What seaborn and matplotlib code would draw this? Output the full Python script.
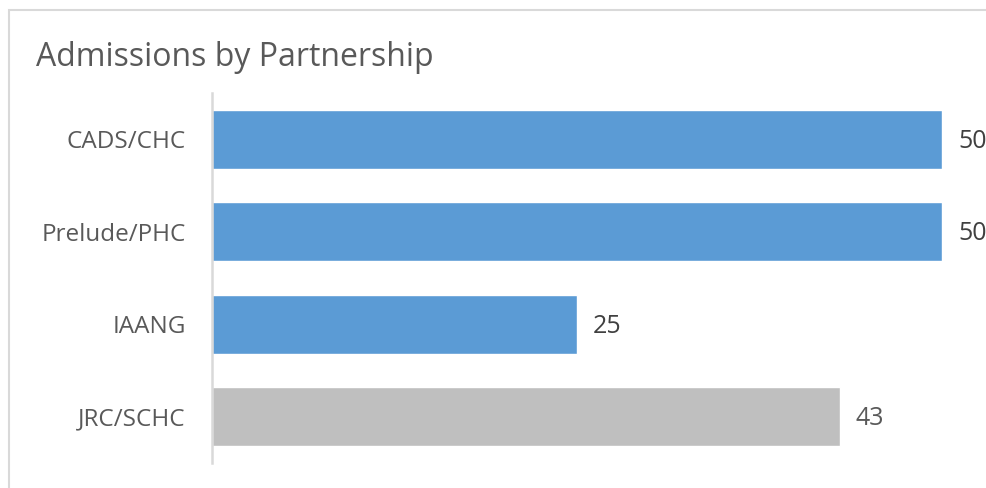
import matplotlib
matplotlib.use("Agg")
import matplotlib.pyplot as plt
import seaborn as sns
import pandas as pd
from matplotlib.patches import Rectangle

categories = ["CADS/CHC", "Prelude/PHC", "IAANG", "JRC/SCHC"]
values = [50, 50, 25, 43]
bar_colors = ["#5B9BD5", "#5B9BD5", "#5B9BD5", "#BFBFBF"]
label_colors = ["#404040", "#404040", "#404040", "#595959"]
title = "Admissions by Partnership"

sns.set_style("white")
plt.rcParams["font.family"] = ["Open Sans", "DejaVu Sans"]

df = pd.DataFrame({"cat": categories, "val": values})

fig = plt.figure(figsize=(9.87, 4.88), dpi=100)
fig.patches.append(Rectangle((9/987, -0.1), 1.1, (488-10)/488 + 0.1, transform=fig.transFigure,
                             fill=False, edgecolor="#D9D9D9", linewidth=1.5, zorder=0))
ax = fig.add_axes([212/987, 25/488, 730/987, 370/488])
sns.barplot(data=df, y="cat", x="val", hue="cat", palette=bar_colors, order=categories,
            hue_order=categories, width=0.64, legend=False, ax=ax, saturation=1)
ax.set_xlim(0, 50)
ax.set_ylim(3.5, -0.5)
ax.set_xlabel("")
ax.set_ylabel("")
ax.set_xticks([])
for s in ["top", "right", "bottom"]:
    ax.spines[s].set_visible(False)
ax.spines["left"].set_color("#D9D9D9")
ax.spines["left"].set_linewidth(1.8)
ax.tick_params(axis="y", length=0, pad=19, labelsize=17.5, labelcolor="#595959")

for i, (v, c) in enumerate(zip(values, label_colors)):
    ax.annotate(str(v), xy=(v, i), xytext=(16, -2), textcoords="offset pixels",
                va="center", ha="left", fontsize=18, color=c, annotation_clip=False)

fig.text(36/987, 1 - 58/488, title, fontsize=23, color="#595959", va="center", ha="left")

fig.savefig("out.png", dpi=100)
